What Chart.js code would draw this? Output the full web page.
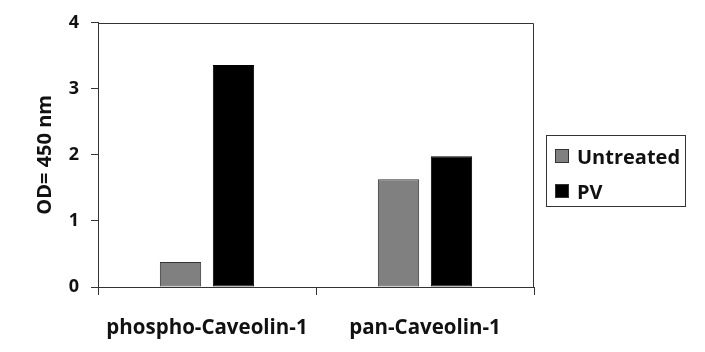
<!DOCTYPE html>
<html>
<head>
<meta charset="utf-8">
<script src="https://cdn.jsdelivr.net/npm/chart.js@4/dist/chart.umd.min.js"></script>
<style>
  body { margin: 0; background: #fff; }
  #wrap { position: relative; width: 705px; height: 352px; }
  #legend {
    position: absolute; left: 546px; top: 135px;
    width: 138px; height: 70px;
    border: 1px solid #333;
    font: bold 20px "Open Sans", sans-serif; color: #111;
  }
  #legend .item { position: absolute; left: 8px; height: 24px; display: flex; align-items: center; }
  #legend .sw { width: 12px; height: 12px; border: 1px solid #333; margin-right: 8px; }
</style>
</head>
<body>
<div id="wrap">
  <canvas id="chart" width="705" height="352"></canvas>
  <div id="legend"></div>
</div>
<script>
// Werte
const categories = ["phospho-Caveolin-1", "pan-Caveolin-1"];
const seriesNames = ["Untreated", "PV"];
const untreated = [0.38, 1.63];
const pv = [3.36, 1.98];
const yTicks = [0, 1, 2, 3, 4];

const axisColor = "#333";
Chart.defaults.font.family = "'Open Sans', sans-serif";
Chart.defaults.font.weight = "bold";
Chart.defaults.color = "#111";

// Rahmen oben und rechts
const framePlugin = {
  id: "frame",
  afterDraw(chart) {
    const { ctx, chartArea: a } = chart;
    ctx.save();
    ctx.strokeStyle = axisColor;
    ctx.lineWidth = 1;
    ctx.beginPath();
    ctx.moveTo(a.left, Math.round(a.top) + 0.5);
    ctx.lineTo(Math.round(a.right) - 0.5, Math.round(a.top) + 0.5);
    ctx.lineTo(Math.round(a.right) - 0.5, a.bottom);
    ctx.stroke();
    ctx.restore();
  }
};

const chart = new Chart(document.getElementById("chart"), {
  type: "bar",
  data: {
    labels: categories,
    datasets: [
      { label: seriesNames[0], data: untreated, backgroundColor: "#808080", borderColor: "#333", borderWidth: 1, borderSkipped: false },
      { label: seriesNames[1], data: pv, backgroundColor: "#000", borderColor: "#000", borderWidth: 1, borderSkipped: false }
    ]
  },
  options: {
    responsive: false,
    animation: false,
    categoryPercentage: 0.486,
    barPercentage: 0.78,
    layout: { padding: { top: 22, right: 171, left: 0, bottom: 0 } },
    plugins: { legend: { display: false }, tooltip: { enabled: false } },
    scales: {
      x: {
        grid: { display: true, drawOnChartArea: false, offset: true, tickLength: 8, color: axisColor },
        border: { color: axisColor },
        ticks: { padding: 21, font: { size: 20.5, weight: "bold" } },
        afterFit(s) { s.height = 65; }
      },
      y: {
        min: yTicks[0],
        max: yTicks[yTicks.length - 1],
        afterBuildTicks(s) { s.ticks = yTicks.map(v => ({ value: v })); },
        grid: { display: true, drawOnChartArea: false, tickLength: 7, color: axisColor },
        border: { color: axisColor },
        ticks: { padding: 12, font: { size: 18, weight: "bold" } },
        title: { display: true, text: "OD= 450 nm", font: { size: 20, weight: "bold" }, padding: { top: 33, bottom: 0 } },
        afterFit(s) { s.width = 98; }
      }
    }
  },
  plugins: [framePlugin]
});

// HTML-Legende aus den Datensätzen
const legend = document.getElementById("legend");
chart.data.datasets.forEach((ds, i) => {
  const item = document.createElement("div");
  item.className = "item";
  item.style.top = (8 + i * 35) + "px";
  item.innerHTML = `<span class="sw" style="background:${ds.backgroundColor}"></span>${ds.label}`;
  legend.appendChild(item);
});
</script>
</body>
</html>
